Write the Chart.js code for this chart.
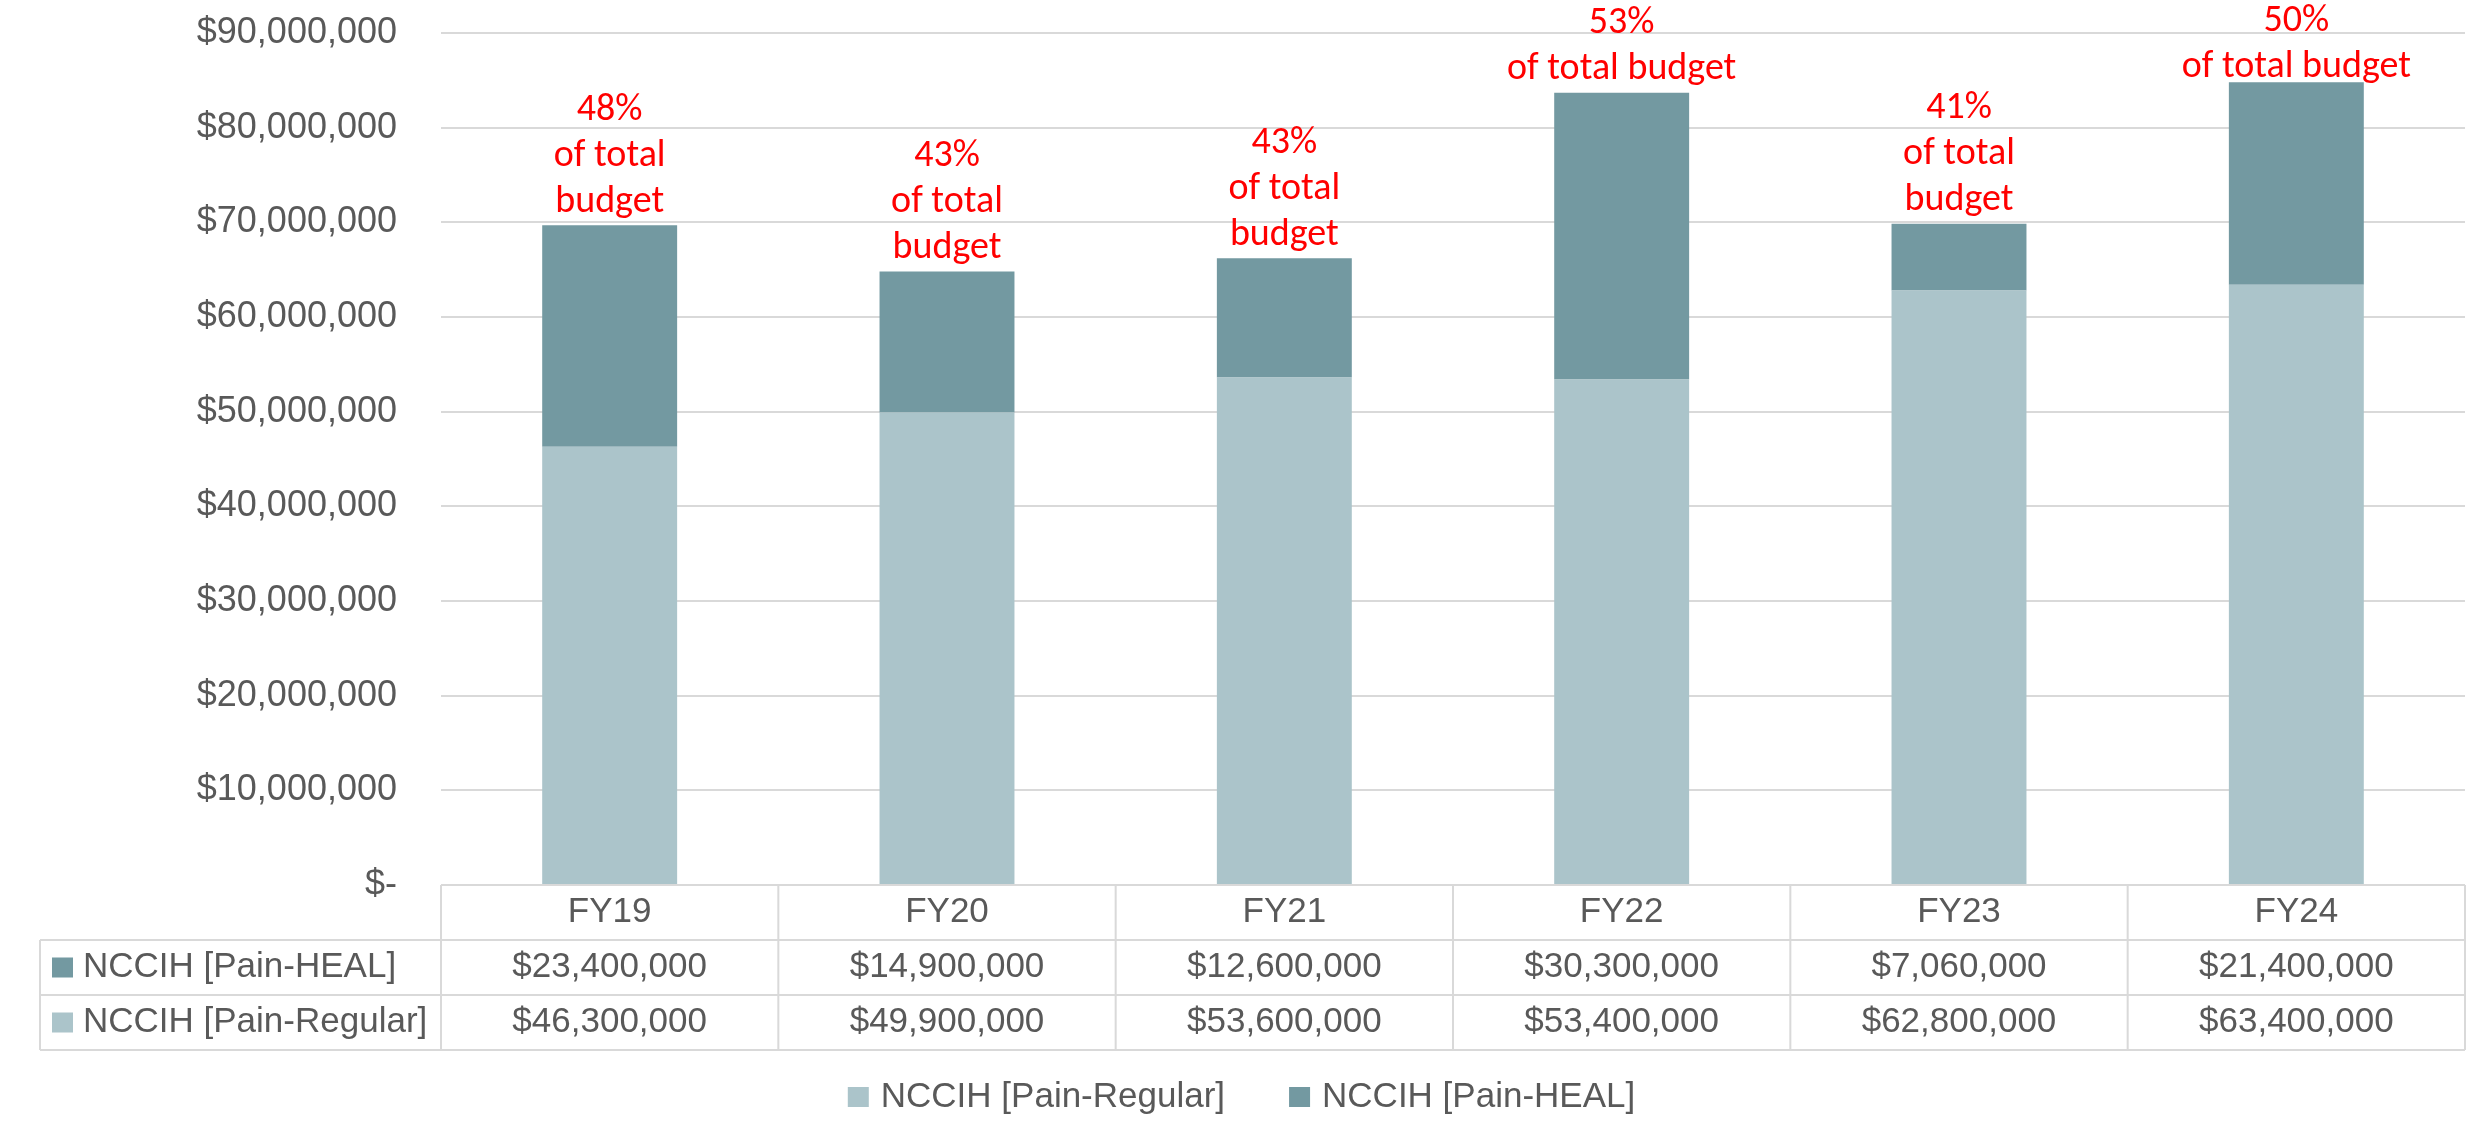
<!DOCTYPE html>
<html lang="en">
<head>
    <meta charset="UTF-8">
    <title>NCCIH Pain Funding</title>
    <script src="https://cdn.jsdelivr.net/npm/chart.js"></script>
    <style>
        html, body { margin: 0; padding: 0; background: #ffffff; }
        #wrap { width: 2483px; height: 1138px; }
    </style>
</head>
<body>
    <div id="wrap"><canvas id="painChart"></canvas></div>

    <script>
        // chart data
        var years = ['FY19', 'FY20', 'FY21', 'FY22', 'FY23', 'FY24'];
        var painRegular = [46300000, 49900000, 53600000, 53400000, 62800000, 63400000];
        var painHeal = [23400000, 14900000, 12600000, 30300000, 7060000, 21400000];
        var shareLabels = [
            ['48%', 'of total', 'budget'],
            ['43%', 'of total', 'budget'],
            ['43%', 'of total', 'budget'],
            ['53%', 'of total budget'],
            ['41%', 'of total', 'budget'],
            ['50%', 'of total budget']
        ];
        var yTickLabels = ['$-', '$10,000,000', '$20,000,000', '$30,000,000', '$40,000,000',
            '$50,000,000', '$60,000,000', '$70,000,000', '$80,000,000', '$90,000,000'];

        var regularColor = '#abc4ca';
        var healColor = '#7399a1';
        var textColor = '#595959';
        var lineColor = '#d9d9d9';
        var baseFont = "'Liberation Sans', Arial, sans-serif";
        var noteFont = "Carlito, Lato, 'Liberation Sans', sans-serif";

        Chart.defaults.font.family = baseFont;
        Chart.defaults.font.size = 35;
        Chart.defaults.color = textColor;

        function money(v) {
            return '$' + v.toLocaleString('en-US');
        }

        // data table under the axis, legend, and red share notes
        var extrasPlugin = {
            id: 'extras',
            afterDraw: function(chart) {
                var ctx = chart.ctx;
                var xs = chart.scales.x;
                var ys = chart.scales.y;
                var area = chart.chartArea;
                var colW = (area.right - area.left) / years.length;
                var top = area.bottom;
                var rowH = 55;
                var tableLeft = 40;

                ctx.save();

                // table grid
                ctx.strokeStyle = lineColor;
                ctx.lineWidth = 2;
                ctx.beginPath();
                ctx.moveTo(area.left, top);
                ctx.lineTo(area.right, top);
                for (var r = 1; r <= 3; r++) {
                    ctx.moveTo(tableLeft, top + r * rowH);
                    ctx.lineTo(area.right, top + r * rowH);
                }
                for (var i = 0; i <= years.length; i++) {
                    var bx = i < years.length ? xs.getPixelForValue(i) - colW / 2 : xs.getPixelForValue(i - 1) + colW / 2;
                    ctx.moveTo(bx, top);
                    ctx.lineTo(bx, top + 3 * rowH);
                }
                ctx.moveTo(tableLeft, top + rowH);
                ctx.lineTo(tableLeft, top + 3 * rowH);
                ctx.stroke();

                // table text
                ctx.font = '35px ' + baseFont;
                ctx.fillStyle = textColor;
                ctx.textAlign = 'center';
                ctx.textBaseline = 'middle';
                years.forEach(function(yr, i) {
                    var cx = xs.getPixelForValue(i);
                    ctx.fillText(yr, cx, top + rowH * 0.5);
                    ctx.fillText(money(painHeal[i]), cx, top + rowH * 1.5);
                    ctx.fillText(money(painRegular[i]), cx, top + rowH * 2.5);
                });

                // row headers
                var rows = [
                    { label: chart.data.datasets[1].label, color: healColor },
                    { label: chart.data.datasets[0].label, color: regularColor }
                ];
                ctx.textAlign = 'left';
                rows.forEach(function(row, k) {
                    var cy = top + rowH * (k + 1.5);
                    ctx.fillStyle = row.color;
                    ctx.fillRect(52, cy - 10, 21, 20);
                    ctx.fillStyle = textColor;
                    ctx.fillText(row.label, 83, cy);
                });

                // legend
                var items = chart.data.datasets.map(function(ds) {
                    return { label: ds.label, color: ds.backgroundColor, w: ctx.measureText(ds.label).width };
                });
                var box = 21, gap = 12, itemGap = 64;
                var total = items.reduce(function(s, it) { return s + box + gap + it.w; }, 0) + itemGap * (items.length - 1);
                var lx = (chart.width - total) / 2;
                var ly = 1097;
                items.forEach(function(it) {
                    ctx.fillStyle = it.color;
                    ctx.fillRect(lx, ly - 10, box, 20);
                    ctx.fillStyle = textColor;
                    ctx.fillText(it.label, lx + box + gap, ly);
                    lx += box + gap + it.w + itemGap;
                });

                // share notes above each bar, pushed down if they would leave the canvas
                ctx.font = '38px ' + noteFont;
                ctx.fillStyle = '#ff0000';
                ctx.textAlign = 'center';
                var lineH = 46;
                shareLabels.forEach(function(lines, i) {
                    var cx = xs.getPixelForValue(i);
                    var barTop = ys.getPixelForValue(painRegular[i] + painHeal[i]);
                    var n = lines.length;
                    var firstY = barTop - 23 - (n - 1) * lineH;
                    if (firstY < 21) firstY = 21;
                    lines.forEach(function(txt, k) {
                        ctx.fillText(txt, cx, firstY + k * lineH);
                    });
                });

                ctx.restore();
            }
        };

        var ctxBar = document.getElementById('painChart').getContext('2d');
        var painChart = new Chart(ctxBar, {
            type: 'bar',
            data: {
                labels: years,
                datasets: [{
                    label: 'NCCIH [Pain-Regular]',
                    data: painRegular,
                    backgroundColor: regularColor
                }, {
                    label: 'NCCIH [Pain-HEAL]',
                    data: painHeal,
                    backgroundColor: healColor
                }]
            },
            options: {
                responsive: true,
                maintainAspectRatio: false,
                devicePixelRatio: 1,
                animation: false,
                layout: { padding: { top: 33, right: 18, left: 0, bottom: 0 } },
                datasets: {
                    bar: { categoryPercentage: 1.0, barPercentage: 0.4 }
                },
                plugins: {
                    legend: { display: false },
                    tooltip: { enabled: false }
                },
                scales: {
                    x: {
                        stacked: true,
                        grid: { display: false },
                        border: { display: false },
                        ticks: { display: false },
                        afterFit: function(scale) { scale.height = 253; }
                    },
                    y: {
                        stacked: true,
                        min: 0,
                        max: 90000000,
                        // transparent tick marks just push the labels away from the plot
                        grid: { color: lineColor, lineWidth: 2, drawTicks: true, tickLength: 44, tickColor: 'rgba(0,0,0,0)' },
                        border: { display: false },
                        ticks: {
                            stepSize: 10000000,
                            padding: 0,
                            color: textColor,
                            font: { size: 36 },
                            callback: function(value, index) { return yTickLabels[index]; }
                        },
                        afterFit: function(scale) { scale.width = 441; }
                    }
                }
            },
            plugins: [extrasPlugin]
        });
    </script>
</body>
</html>
